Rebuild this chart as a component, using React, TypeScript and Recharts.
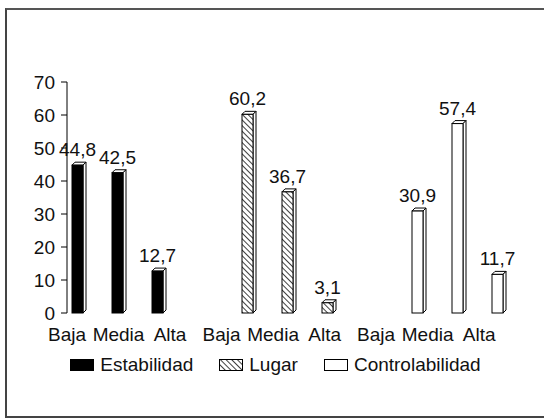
import { BarChart, Bar, XAxis, YAxis, LabelList, Legend } from "recharts"

const levels = ["Baja", "Media", "Alta"]
const estabilidad = [44.8, 42.5, 12.7]
const lugar = [60.2, 36.7, 3.1]
const controlabilidad = [30.9, 57.4, 11.7]
const yTicks = [0, 10, 20, 30, 40, 50, 60, 70]

const series = [
  { key: "estabilidad", name: "Estabilidad", fill: "#000", values: estabilidad },
  { key: "lugar", name: "Lugar", fill: "url(#lugarHatch)", values: lugar },
  { key: "controlabilidad", name: "Controlabilidad", fill: "#fff", values: controlabilidad },
]

// one block of three levels per series, with an empty slot between blocks
const data: any[] = []
series.forEach((s, si) => {
  if (si > 0) data.push({ label: "" })
  levels.forEach((lv, i) => data.push({ label: lv, [s.key]: s.values[i] }))
})

// the level names run evenly under the whole axis, as in the original
const tickLabels = series.flatMap(() => levels)
const labelTicks = tickLabels.map((_, i) => i)

const FONT = 19

const fmt = (v: any) => (v == null ? "" : Number(v).toFixed(1).replace(".", ","))

function Bar3D(props: any) {
  const { x, y, width, height, fill } = props
  if (height == null || height <= 0 || isNaN(height)) return null
  const d = 3
  return (
    <g>
      <polygon
        points={`${x},${y} ${x + d},${y - d} ${x + width + d},${y - d} ${x + width},${y}`}
        fill="#fff"
        stroke="#000"
        strokeWidth={1}
      />
      <polygon
        points={`${x + width},${y} ${x + width + d},${y - d} ${x + width + d},${y + height - d} ${x + width},${y + height}`}
        fill="#fff"
        stroke="#000"
        strokeWidth={1}
      />
      <rect x={x} y={y} width={width} height={height} fill={fill} stroke="#000" strokeWidth={1} />
    </g>
  )
}

function LegendBox() {
  return (
    <div style={{ display: "flex", justifyContent: "center", gap: 26, fontSize: FONT, color: "#111" }}>
      {series.map((s) => (
        <div key={s.key} style={{ display: "flex", alignItems: "center", gap: 6 }}>
          <svg width={24} height={12}>
            <defs>
              <pattern id={`lg-${s.key}`} width={4} height={4} patternUnits="userSpaceOnUse" patternTransform="rotate(-45)">
                <line x1={0} y1={0} x2={0} y2={4} stroke="#000" strokeWidth={1.5} />
              </pattern>
            </defs>
            <rect
              x={0.5}
              y={0.5}
              width={23}
              height={11}
              fill={s.key === "lugar" ? `url(#lg-${s.key})` : s.fill}
              stroke="#000"
              strokeWidth={1}
            />
          </svg>
          <span>{s.name}</span>
        </div>
      ))}
    </div>
  )
}

export default function App() {
  return (
    <div
      style={{
        position: "absolute",
        left: 5,
        top: 8,
        width: 539,
        height: 410,
        boxSizing: "border-box",
        borderLeft: "2px solid #444",
        borderTop: "2px solid #555",
        borderBottom: "2px solid #444",
        background: "#fff",
        fontFamily: "'Liberation Sans', Arial, sans-serif",
      }}
    >
      <BarChart
        width={537}
        height={406}
        data={data}
        margin={{ top: 72, right: 37, left: 0, bottom: 73 }}
        barSize={11}
        barGap={-1}
        barCategoryGap={0}
      >
        <defs>
          <pattern id="lugarHatch" width={4} height={4} patternUnits="userSpaceOnUse" patternTransform="rotate(-45)">
            <rect width={4} height={4} fill="#fff" />
            <line x1={0} y1={0} x2={0} y2={4} stroke="#000" strokeWidth={1.5} />
          </pattern>
        </defs>
        <XAxis dataKey="label" interval={0} height={0} tickSize={5} stroke="#000" tick={() => <g />} />
        <XAxis
          xAxisId="lvl"
          type="number"
          dataKey="noValues"
          domain={[0, 8.54]}
          ticks={labelTicks}
          tickFormatter={(i: number) => tickLabels[i] ?? ""}
          interval={0}
          allowDataOverflow
          axisLine={false}
          tickLine={false}
          height={30}
          tickSize={6}
          tickMargin={9}
          tick={{ fill: "#111", fontSize: FONT }}
        />
        <XAxis xAxisId="top" orientation="top" dataKey="label" height={0} tick={false} tickLine={false} stroke="#333" />
        <YAxis
          domain={[0, 70]}
          ticks={yTicks}
          width={60}
          tickSize={6}
          tickMargin={6}
          stroke="#000"
          tick={{ fill: "#111", fontSize: FONT }}
        />
        <YAxis yAxisId="right" orientation="right" width={0} tick={false} tickLine={false} stroke="#333" />
        <Legend
          layout="horizontal"
          verticalAlign="middle"
          align="center"
          wrapperStyle={{ top: 344, left: 0, width: 537 }}
          content={() => <LegendBox />}
        />
        {series.map((s) => (
          <Bar key={s.key} dataKey={s.key} name={s.name} fill={s.fill} shape={<Bar3D />} isAnimationActive={false}>
            <LabelList dataKey={s.key} position="top" offset={9} formatter={fmt} fill="#111" fontSize={FONT} />
          </Bar>
        ))}
      </BarChart>
    </div>
  )
}
